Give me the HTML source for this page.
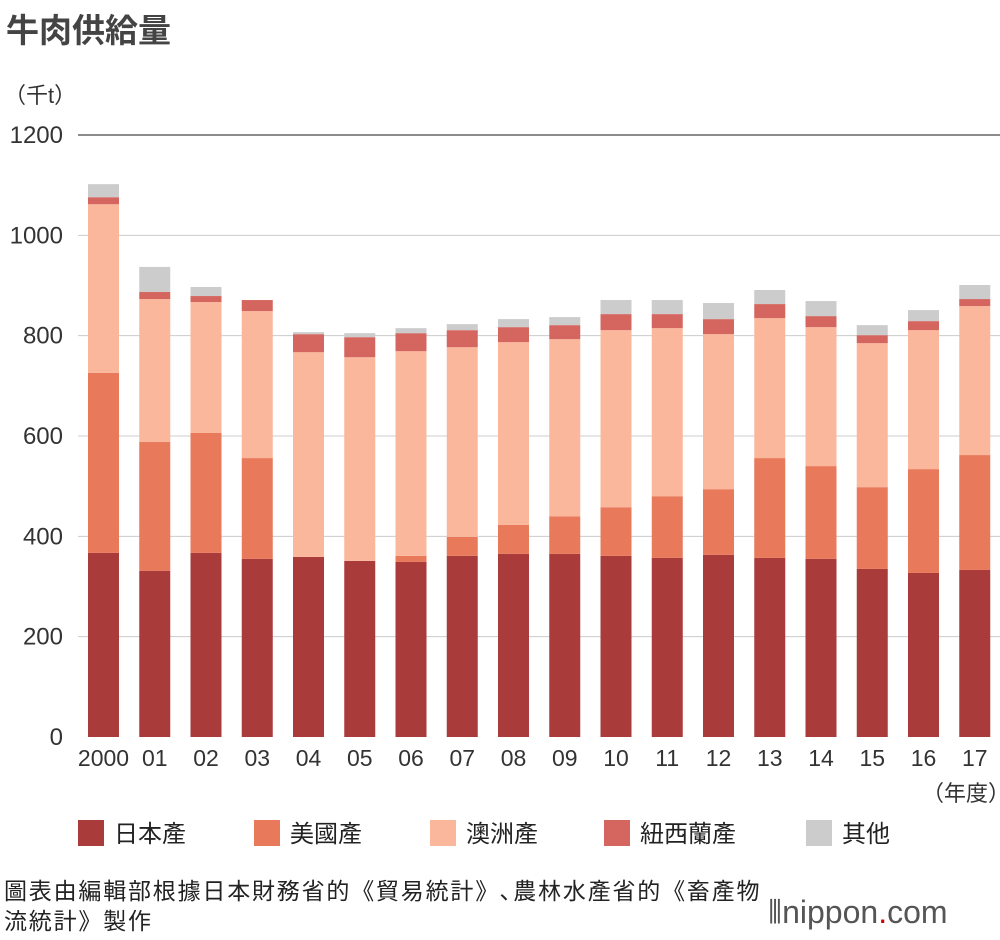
<!DOCTYPE html>
<html><head><meta charset="utf-8">
<style>
body{margin:0;background:#fff;font-family:"Liberation Sans","Noto Sans CJK JP",sans-serif;}
#wrap{position:relative;width:1000px;height:940px;overflow:hidden;}
.t{position:absolute;color:#333;}
</style></head><body>
<div id="wrap">
<div class="t" style="left:6px;top:4px;font-size:33px;font-weight:bold;color:#444;">牛肉供給量</div>
<div class="t" style="left:4px;top:78px;font-size:22px;">（千t）</div>
<svg id="chart" width="1000" height="940" style="position:absolute;left:0;top:0"></svg>
<div class="t" style="left:922px;top:776px;font-size:22px;">（年度）</div>
<div class="t" style="left:4px;top:876px;font-size:23px;letter-spacing:1.8px;line-height:30px;color:#222;white-space:nowrap;">圖表由編輯部根據日本財務省的《貿易統計》､農林水產省的《畜產物<br>流統計》製作</div>
<div class="t" style="left:768px;top:894px;font-size:32px;color:#555;">⦀nippon<span style="color:#c00">.</span>com</div>
</div>
<script>
const years=["2000","01","02","03","04","05","06","07","08","09","10","11","12","13","14","15","16","17"];
const japan=[367,331,367,355,359,351,349,361,365,365,361,357,363,357,355,335,327,333];
const usa=[359,257,239,201,0,0,12,38,58,75,97,123,131,199,185,163,207,229];
const australia=[336,285,261,293,408,406,408,378,364,353,353,335,309,279,277,287,277,297];
const newZealand=[14,14,12,22,36,40,36,34,30,28,32,28,30,28,22,16,18,14];
const other=[26,50,18,0,4,8,10,12,16,16,28,28,32,28,30,20,22,28];
const yTicks=[0,200,400,600,800,1000,1200];
const seriesNames=["日本產","美國產","澳洲產","紐西蘭產","其他"];
const series=[japan,usa,australia,newZealand,other];
const colors=["#a93b3b","#e8795a","#fbb79c","#d5655f","#cccccc"];
const svg=document.getElementById('chart');
const NS="http://www.w3.org/2000/svg";
const y=v=>737-v*(602/1200);
const x=i=>103.5+i*51.25;
function mk(tag,attrs){const e=document.createElementNS(NS,tag);for(const k in attrs)e.setAttribute(k,attrs[k]);svg.appendChild(e);return e;}
yTicks.forEach(t=>{
  if(t>0){const l=mk('line',{x1:78,x2:1000,y1:y(t),y2:y(t),stroke:t===1200?'#666':'#ccc','stroke-width':t===1200?1.5:1});
  
  }
  const tx=mk('text',{x:63,y:y(t)+8,'text-anchor':'end','font-size':24,fill:'#333','font-family':'Liberation Sans, sans-serif'});
  tx.textContent=t;
  
  
});
years.forEach((yr,i)=>{
  let cum=0;
  series.forEach((s,k)=>{
    const v=s[i];if(v<=0)return;
    const r=mk('rect',{x:x(i)-15.5,width:31,y:y(cum+v),height:y(cum)-y(cum+v),fill:colors[k]});
    
    
    cum+=v;
  });
  const tx=mk('text',{x:x(i),y:766,'text-anchor':'middle','font-size':23,fill:'#333','font-family':'Liberation Sans, sans-serif'});
  tx.textContent=yr;
  
  
});
const lx=[78,254,430,604,806];
seriesNames.forEach((n,k)=>{
  const r=mk('rect',{x:lx[k],y:820,width:26,height:26,fill:colors[k]});
  
  
  const t=mk('text',{x:lx[k]+36,y:842,'font-size':24,fill:'#222','font-family':'Liberation Sans, Noto Sans CJK JP, sans-serif'});
  t.textContent=n;
  
  
});
</script>
</body></html>
